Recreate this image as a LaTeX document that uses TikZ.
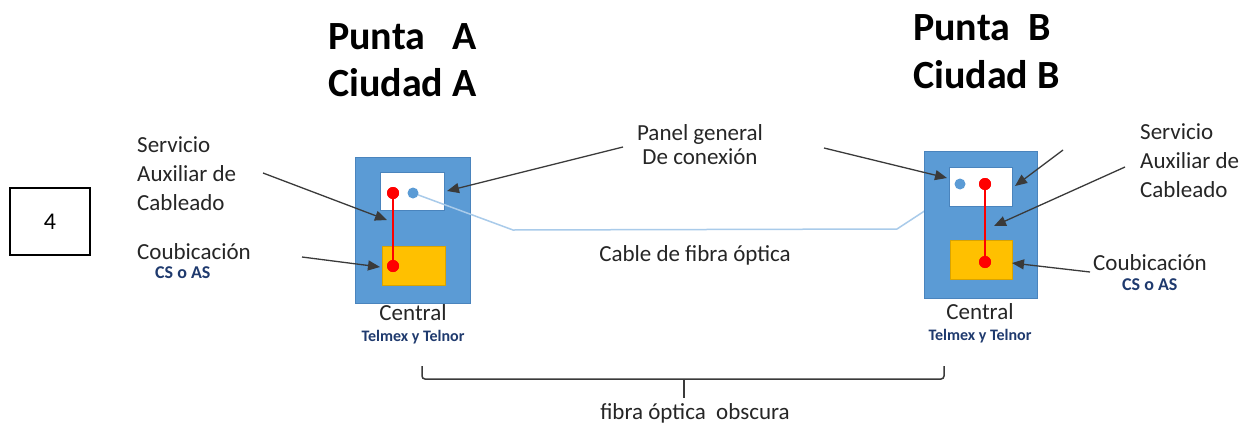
\documentclass[tikz,border=0pt]{standalone}
\usepackage{fontspec}
\setmainfont{Carlito}
\usetikzlibrary{arrows.meta}
\definecolor{boxblue}{HTML}{5B9BD5}
\definecolor{boxedge}{HTML}{4A84BD}
\definecolor{gold}{HTML}{FFC000}
\definecolor{goldedge}{HTML}{D9A300}
\definecolor{fiber}{HTML}{A9CBEA}
\definecolor{navy}{HTML}{1F3A6E}
\definecolor{arrowgray}{HTML}{3A3A3A}
\definecolor{txt}{HTML}{262626}
\begin{document}
\begin{tikzpicture}[x=1pt,y=-1pt,
  central/.style={draw=boxedge, fill=boxblue, line width=0.8pt, minimum width=115pt, minimum height=146pt, inner sep=0pt},
  panelbox/.style={fill=white, draw=boxedge, line width=0.5pt, minimum width=64pt, minimum height=38pt, inner sep=0pt},
  cubic/.style={fill=gold, draw=goldedge, line width=0.5pt, minimum width=63pt, minimum height=39pt, inner sep=0pt},
  reddot/.style={circle, fill=red, inner sep=0pt, minimum size=12pt},
  bluedot/.style={circle, fill=boxblue, inner sep=0pt, minimum size=11pt},
  pointer/.style={draw=arrowgray, line width=1.3pt, -{Triangle[length=12pt,width=10pt]}},
  lbl/.style={font=\fontsize{23}{29}\selectfont, text=txt, inner sep=0pt, align=left},
  small/.style={font=\fontsize{18}{21}\selectfont\bfseries, text=navy, inner sep=0pt},
  small2/.style={font=\fontsize{16}{19}\selectfont\bfseries, text=navy, inner sep=0pt},
  title/.style={font=\fontsize{40}{46}\selectfont\bfseries, text=black, inner sep=0pt, anchor=west},
  fiberline/.style={draw=fiber, line width=1.5pt},
  redline/.style={draw=red, line width=1.1pt}
]
\useasboundingbox[fill=white] (0,0) rectangle (1252,434);

% numbered box
\node[draw=black, line width=1.6pt, minimum width=80pt, minimum height=67pt, inner sep=0pt,
      font=\fontsize{24}{28}\selectfont] (num) at (50,221.5) {4};

% titles
\node[title] (tA1) at (328,37) {Punta\ \ \ A};
\node[title] (tA2) at (328,83) {Ciudad A};
\node[title] (tB1) at (913,28) {Punta\ \ B};
\node[title] (tB2) at (913,75) {Ciudad B};

% left central
\node[central] (cenA) at (412.5,230) {};
\node[panelbox] (panA) at (412.5,191) {};
\node[cubic] (cubA) at (413.5,265.5) {};

% fiber cable
\coordinate (k1) at (513,230);
\coordinate (k2) at (897,229);
\coordinate (k3) at (923,212);
\coordinate (bA) at (413,193);
\coordinate (bB) at (960,184);
\draw[fiberline] (bA) -- (k1) -- (k2) -- (k3) -- (bB);

% right central
\node[central, minimum width=113pt, minimum height=147pt] (cenB) at (980.5,224.5) {};
\node[panelbox, minimum width=63pt, minimum height=39pt] (panB) at (980.5,186.5) {};
\node[cubic, minimum width=62pt] (cubB) at (981,259.5) {};

% red jumpers and dots
\node[reddot] (rA1) at (393,193) {};
\node[reddot] (rA2) at (393,266) {};
\node[bluedot] (blA) at (bA) {};
\node[reddot] (rB1) at (985,184) {};
\node[reddot] (rB2) at (985,262) {};
\node[bluedot] (blB) at (bB) {};
\draw[redline] (rA1.center) -- (rA2.center);
\draw[redline] (rB1.center) -- (rB2.center);
\node[reddot] at (rA1) {};
\node[reddot] at (rA2) {};
\node[reddot] at (rB1) {};
\node[reddot] at (rB2) {};

% labels
\node[lbl, anchor=west] (servA) at (137,174) {Servicio\\Auxiliar de\\Cableado};
\node[lbl, anchor=west] (coubA) at (137,252) {Coubicación};
\node[small, anchor=west] (csA) at (155,273) {CS o AS};
\node[lbl] (centA) at (413,313) {Central};
\node[small2] (telA) at (413,337) {Telmex y Telnor};

\node[lbl, align=center, font=\fontsize{23}{24}\selectfont] (panT) at (700,145) {Panel general\\De conexión};
\node[lbl] (cabT) at (695,255) {Cable de fibra óptica};

\node[lbl, anchor=west] (servB) at (1140,161) {Servicio\\Auxiliar de\\Cableado};
\node[lbl, anchor=west] (coubB) at (1093,263) {Coubicación};
\node[small, anchor=west] (csB) at (1122,285) {CS o AS};
\node[lbl] (centB) at (980,312) {Central};
\node[small2] (telB) at (980,336) {Telmex y Telnor};

% pointers
\coordinate (pa1) at (263,173);  \coordinate (pa2) at (387,220);
\coordinate (pc1) at (302,257);  \coordinate (pc2) at (380,267);
\coordinate (pp1) at (623,147);  \coordinate (pp2) at (447,191);
\coordinate (pq1) at (824,148);  \coordinate (pq2) at (947,178);
\coordinate (pb1) at (1063,150); \coordinate (pb2) at (1015,186);
\coordinate (pd1) at (1125,167); \coordinate (pd2) at (994,226);
\coordinate (pe1) at (1090,272); \coordinate (pe2) at (1012,263);
\draw[pointer] (pa1) -- (pa2);
\draw[pointer] (pc1) -- (pc2);
\draw[pointer] (pp1) -- (pp2);
\draw[pointer] (pq1) -- (pq2);
\draw[pointer] (pb1) -- (pb2);
\draw[pointer] (pd1) -- (pd2);
\draw[pointer] (pe1) -- (pe2);

% brace
\coordinate (brL) at (422,366);
\coordinate (brR) at (944,366);
\coordinate (brM) at (684,379);
\coordinate (brT) at (684,398);
\draw[arrowgray, line width=1.5pt, rounded corners=3pt] (brL) |- (brM) -| (brR);
\draw[arrowgray, line width=1.5pt] (brM) -- (brT);
\node[lbl] (fibT) at (695,413) {fibra óptica\ \ obscura};
\end{tikzpicture}
\end{document}
